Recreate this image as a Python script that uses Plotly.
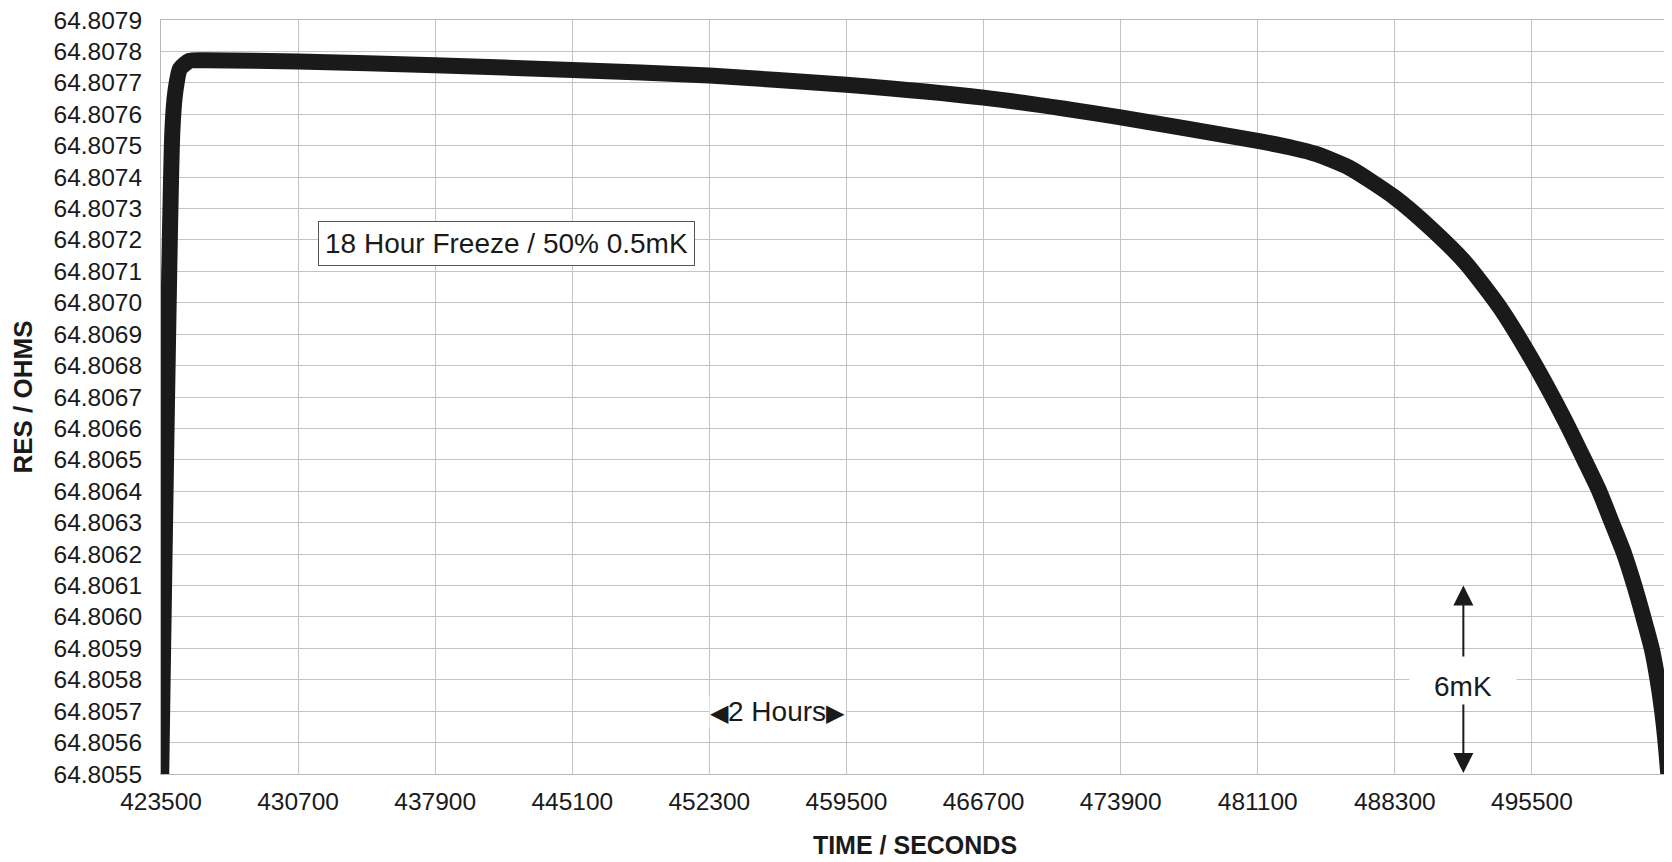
import plotly.graph_objects as go

# ---- data ----
time_s = [423500, 424100, 424250, 424500, 425000, 425800, 430700, 437900, 445100,
          452300, 459500, 466700, 473900, 481100, 483000, 484150, 485900, 488300,
          490280, 492030, 493780, 495500, 497280, 498250, 499040, 499700, 500350,
          500880, 501350, 501790, 502100, 502340, 502520, 502660]
res_ohms = [64.80545, 64.80755, 64.80767, 64.807745, 64.80777, 64.807772, 64.807768,
            64.807756, 64.807741, 64.807723, 64.807694, 64.807653, 64.80759,
            64.807515, 64.807492, 64.807474, 64.80743, 64.807335, 64.807232,
            64.807126, 64.806988, 64.806819, 64.80662, 64.8065, 64.8064, 64.8063,
            64.8062, 64.8061, 64.8060, 64.8059, 64.8058, 64.8057, 64.8056, 64.8055]

x_ticks = [423500, 430700, 437900, 445100, 452300, 459500, 466700, 473900,
           481100, 488300, 495500]
x_range = [423500, 502700]
y_range = [64.8055, 64.8079]

FONT = "Liberation Sans, Arial, sans-serif"
INK = "#1a1a1a"
GRID = "#c4c4c4"

fig = go.Figure()
fig.add_trace(go.Scatter(
    x=time_s, y=res_ohms, mode="lines",
    line=dict(color=INK, width=16, shape="spline", smoothing=0.6),
    showlegend=False, hoverinfo="skip",
))

fig.update_layout(
    width=1664, height=854,
    margin=dict(l=153, r=3, t=12, b=88),
    paper_bgcolor="white", plot_bgcolor="white",
    font=dict(family=FONT, color=INK, size=24),
    xaxis=dict(
        range=x_range, tickvals=x_ticks, tickformat="d", automargin=False,
        showgrid=True, gridcolor=GRID, gridwidth=1,
        showline=True, linecolor="#b8b8b8", linewidth=1, mirror=True,
        zeroline=False, ticks="", ticklabelstandoff=6,
        tickfont=dict(size=24.5, family=FONT, color=INK),
        title=dict(text="<b>TIME / SECONDS</b>", standoff=22,
                   font=dict(size=25, family=FONT, color=INK)),
    ),
    yaxis=dict(
        range=y_range, dtick=0.0001, tick0=64.8055, tickformat=".4f",
        automargin=False, ticklabeloverflow="allow",
        showgrid=True, gridcolor=GRID, gridwidth=1,
        showline=True, linecolor="#b8b8b8", linewidth=1, mirror=True,
        zeroline=False, ticks="", ticklabelstandoff=13,
        tickfont=dict(size=24.5, family=FONT, color=INK),
        title=dict(text="<b>RES / OHMS</b>", standoff=14,
                   font=dict(size=26, family=FONT, color=INK)),
    ),
)

# boxed label
fig.add_annotation(
    x=441620, y=64.80719, xref="x", yref="y",
    text="18 Hour Freeze / 50% 0.5mK", showarrow=False,
    font=dict(size=28, family=FONT, color=INK),
    bgcolor="white", bordercolor="#555555", borderwidth=1, borderpad=6,
)

# 2 hours marker
fig.add_annotation(
    x=455900, y=64.8057, xref="x", yref="y",
    text="<span style='font-size:24px'>◀</span>2 Hours<span style='font-size:24px'>▶</span>",
    showarrow=False, font=dict(size=28, family=FONT, color=INK),
    bgcolor="white", borderpad=0,
)

# 6mK label and arrows
fig.add_annotation(
    x=491900, y=64.80578, xref="x", yref="y",
    text="6mK", showarrow=False, font=dict(size=28, family=FONT, color=INK),
    bgcolor="white", width=104, height=38,
)
fig.add_annotation(
    x=491900, y=64.80610, xref="x", yref="y",
    ax=491900, ay=64.805869, axref="x", ayref="y",
    text="", showarrow=True, arrowhead=2, arrowsize=2, arrowwidth=2,
    arrowcolor=INK, standoff=0, startstandoff=0,
)
fig.add_annotation(
    x=491900, y=64.805503, xref="x", yref="y",
    ax=491900, ay=64.805726, axref="x", ayref="y",
    text="", showarrow=True, arrowhead=2, arrowsize=2, arrowwidth=2,
    arrowcolor=INK, standoff=0, startstandoff=0,
)

fig.write_html("out.html")
